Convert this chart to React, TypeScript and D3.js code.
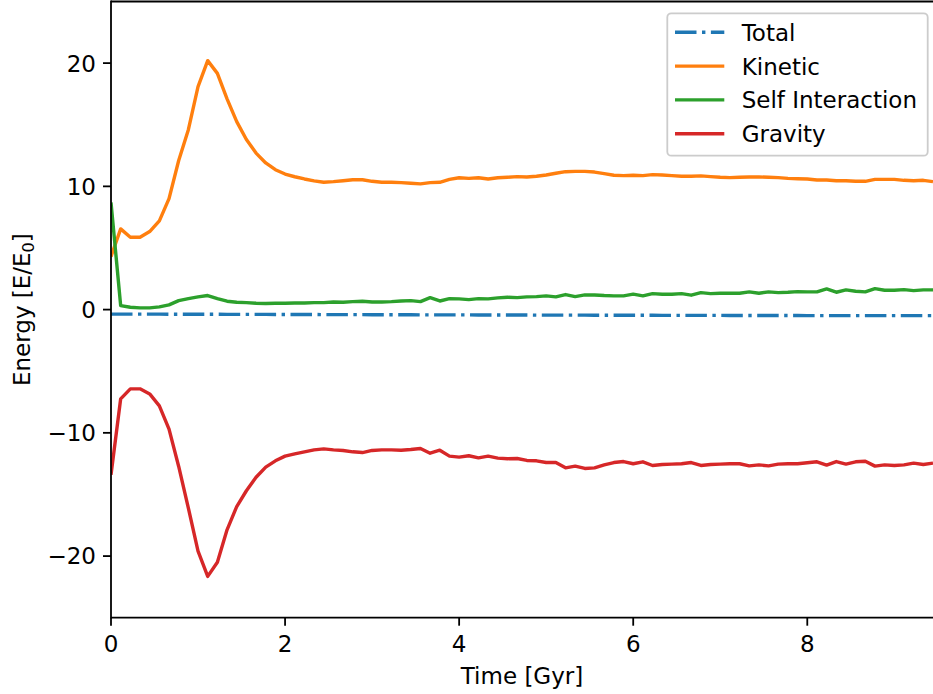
import React from "react";
import * as d3 from "d3";

const TIME: number[] = d3.range(86).map((i) => i / 9);

const TOTAL = [
  -0.37, -0.37, -0.37, -0.37, -0.37, -0.37, -0.38, -0.38, -0.38, -0.38,
  -0.38, -0.38, -0.39, -0.39, -0.39, -0.39, -0.39, -0.4, -0.4, -0.4,
  -0.4, -0.4, -0.41, -0.41, -0.41, -0.41, -0.41, -0.42, -0.42, -0.42,
  -0.42, -0.42, -0.43, -0.43, -0.43, -0.43, -0.43, -0.43, -0.44, -0.44,
  -0.44, -0.44, -0.44, -0.44, -0.45, -0.45, -0.45, -0.45, -0.45, -0.45,
  -0.46, -0.46, -0.46, -0.46, -0.46, -0.46, -0.46, -0.47, -0.47, -0.47,
  -0.47, -0.47, -0.47, -0.47, -0.48, -0.48, -0.48, -0.48, -0.48, -0.48,
  -0.48, -0.48, -0.49, -0.49, -0.49, -0.49, -0.49, -0.49, -0.49, -0.49,
  -0.49, -0.49, -0.49, -0.49, -0.49, -0.49,
];

const KINETIC = [
  4.3, 6.55, 5.87, 5.87, 6.33, 7.2, 9.0, 12.1, 14.6, 18.1,
  20.2, 19.17, 17.1, 15.25, 13.8, 12.7, 11.9, 11.35, 11.0, 10.78,
  10.6, 10.44, 10.33, 10.38, 10.46, 10.54, 10.54, 10.41, 10.33, 10.33,
  10.3, 10.25, 10.2, 10.3, 10.33, 10.57, 10.7, 10.65, 10.7, 10.6,
  10.7, 10.74, 10.79, 10.76, 10.82, 10.92, 11.06, 11.19, 11.22, 11.22,
  11.16, 11.03, 10.9, 10.87, 10.9, 10.87, 10.95, 10.92, 10.87, 10.82,
  10.82, 10.85, 10.79, 10.74, 10.71, 10.74, 10.76, 10.76, 10.74, 10.71,
  10.65, 10.62, 10.6, 10.52, 10.52, 10.46, 10.46, 10.41, 10.41, 10.57,
  10.57, 10.57, 10.49, 10.46, 10.49, 10.38,
];

const SELF_INTERACTION = [
  8.7, 0.32, 0.19, 0.14, 0.14, 0.22, 0.38, 0.73, 0.89, 1.03,
  1.14, 0.89, 0.68, 0.6, 0.57, 0.52, 0.49, 0.52, 0.52, 0.54,
  0.54, 0.57, 0.57, 0.62, 0.6, 0.65, 0.68, 0.62, 0.62, 0.65,
  0.7, 0.73, 0.65, 0.97, 0.7, 0.89, 0.87, 0.81, 0.89, 0.87,
  0.95, 1.0, 0.97, 1.03, 1.05, 1.11, 1.03, 1.22, 1.05, 1.19,
  1.19, 1.14, 1.11, 1.11, 1.25, 1.11, 1.3, 1.25, 1.25, 1.3,
  1.17, 1.38, 1.3, 1.33, 1.33, 1.33, 1.44, 1.33, 1.44, 1.38,
  1.41, 1.46, 1.44, 1.44, 1.68, 1.41, 1.6, 1.49, 1.44, 1.7,
  1.57, 1.57, 1.62, 1.54, 1.6, 1.6,
];

const GRAVITY = [
  -13.4, -7.24, -6.43, -6.43, -6.84, -7.81, -9.7, -12.73, -16.1, -19.6,
  -21.65, -20.5, -17.87, -15.98, -14.7, -13.6, -12.78, -12.27, -11.89, -11.7,
  -11.54, -11.38, -11.3, -11.38, -11.43, -11.54, -11.6, -11.43, -11.38, -11.38,
  -11.41, -11.35, -11.27, -11.65, -11.41, -11.89, -11.97, -11.86, -12.03, -11.89,
  -12.05, -12.1, -12.08, -12.24, -12.27, -12.41, -12.41, -12.84, -12.7, -12.89,
  -12.84, -12.6, -12.41, -12.33, -12.51, -12.35, -12.65, -12.57, -12.54, -12.51,
  -12.41, -12.65, -12.57, -12.54, -12.51, -12.51, -12.68, -12.6, -12.68, -12.54,
  -12.51, -12.51, -12.43, -12.35, -12.62, -12.33, -12.54, -12.35, -12.3, -12.7,
  -12.6, -12.65, -12.6, -12.46, -12.57, -12.46,
];

const SERIES_NAMES = ["Total", "Kinetic", "Self Interaction", "Gravity"];
const SERIES_COLORS = ["#1f77b4", "#ff7f0e", "#2ca02c", "#d62728"];
const X_TICKS = [0, 2, 4, 6, 8];
const Y_TICKS = [-20, -10, 0, 10, 20];

const W = 933;
const H = 694;
const LEFT = 111;
const RIGHT = 933;
const TOP = 1.5;
const BOTTOM = 617.7;
const FONT = "'DejaVu Sans', sans-serif";
const FS = 23;
const LW = 3.4;
const DASH = "21.5,5.5,3.4,5.5";

export default function App() {
  const x = d3.scaleLinear().domain([0, 85 / 9]).range([LEFT, RIGHT]);
  const y = d3.scaleLinear().domain([-25, 25]).range([BOTTOM, TOP]);
  const allSeries = [TOTAL, KINETIC, SELF_INTERACTION, GRAVITY];
  const line = d3
    .line<number>()
    .x((_, i) => x(TIME[i]))
    .y((d) => y(d));
  const fmt = (v: number) => (v < 0 ? "\u2212" + Math.abs(v) : String(v));

  return (
    <div style={{ position: "absolute", left: 0, top: 0 }}>
      <svg width={W} height={H} style={{ display: "block", background: "#fff" }}>
        <defs>
          <clipPath id="plotclip">
            <rect x={LEFT} y={TOP} width={RIGHT - LEFT + 5} height={BOTTOM - TOP} />
          </clipPath>
        </defs>
        <g clipPath="url(#plotclip)">
          {allSeries.map((s, k) => (
            <path
              key={k}
              d={line(s) || ""}
              fill="none"
              stroke={SERIES_COLORS[k]}
              strokeWidth={LW}
              strokeLinejoin="round"
              strokeDasharray={k === 0 ? DASH : undefined}
            />
          ))}
        </g>
        {/* spines */}
        <line x1={LEFT} x2={LEFT} y1={TOP} y2={BOTTOM} stroke="#000" strokeWidth={1.8} strokeLinecap="square" />
        <line x1={LEFT} x2={W + 2} y1={TOP} y2={TOP} stroke="#000" strokeWidth={1.8} />
        <line x1={LEFT} x2={W + 2} y1={BOTTOM} y2={BOTTOM} stroke="#000" strokeWidth={1.8} />
        {/* x ticks */}
        {X_TICKS.map((t) => (
          <g key={"x" + t}>
            <line x1={x(t)} x2={x(t)} y1={BOTTOM} y2={BOTTOM + 8} stroke="#000" strokeWidth={1.8} />
            <text x={x(t)} y={652} textAnchor="middle" fontFamily={FONT} fontSize={FS} fill="#000">
              {fmt(t)}
            </text>
          </g>
        ))}
        {/* y ticks */}
        {Y_TICKS.map((t) => (
          <g key={"y" + t}>
            <line x1={LEFT - 8} x2={LEFT} y1={y(t)} y2={y(t)} stroke="#000" strokeWidth={1.8} />
            <text x={96} y={y(t) + 8.4} textAnchor="end" fontFamily={FONT} fontSize={FS} fill="#000">
              {fmt(t)}
            </text>
          </g>
        ))}
        {/* axis labels */}
        <text x={(LEFT + RIGHT) / 2} y={684} textAnchor="middle" fontFamily={FONT} fontSize={FS} fill="#000">
          Time [Gyr]
        </text>
        <text
          transform={`translate(30, ${(TOP + BOTTOM) / 2}) rotate(-90)`}
          textAnchor="middle"
          fontFamily={FONT}
          fontSize={FS}
          fill="#000"
        >
          Energy [E/E<tspan fontSize={FS * 0.7} dy={4}>0</tspan>
          <tspan dy={-4}>]</tspan>
        </text>
        {/* legend */}
        <rect x={667.3} y={13.3} width={260.4} height={142.4} rx={4} ry={4} fill="#fff" fillOpacity={0.8} stroke="#cccccc" strokeWidth={1.8} />
        {SERIES_NAMES.map((name, k) => {
          const cy = 32.3 + k * 33.8;
          return (
            <g key={name}>
              <line
                x1={675}
                x2={724.3}
                y1={cy}
                y2={cy}
                stroke={SERIES_COLORS[k]}
                strokeWidth={LW}
                strokeDasharray={k === 0 ? DASH : undefined}
              />
              <text x={741.7} y={cy + 8.4} fontFamily={FONT} fontSize={FS} fill="#000">
                {name}
              </text>
            </g>
          );
        })}
      </svg>
    </div>
  );
}
